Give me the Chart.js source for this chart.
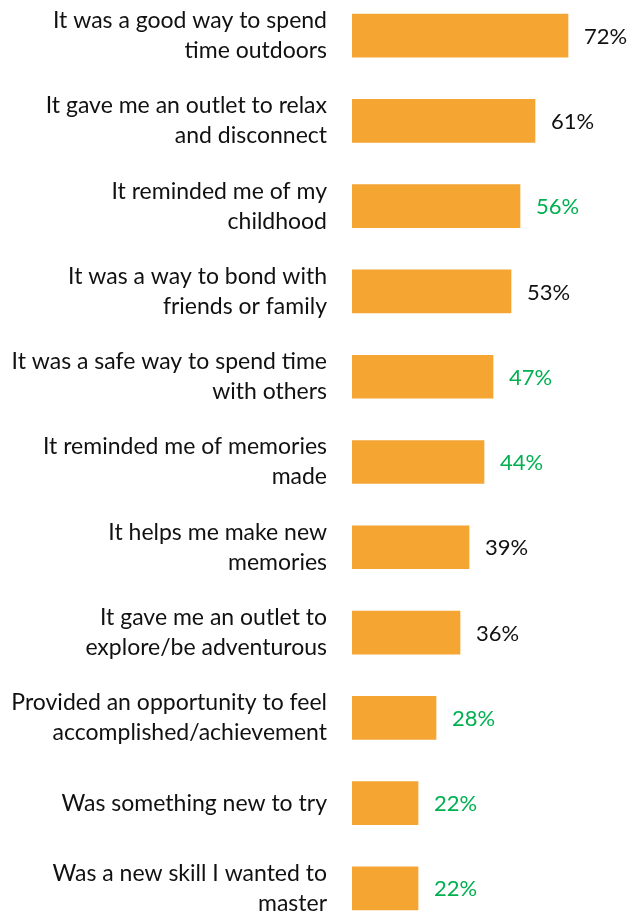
<!DOCTYPE html>
<html>
<head>
<meta charset="utf-8">
<script src="https://cdn.jsdelivr.net/npm/chart.js@4"></script>
<style>
  html, body { margin: 0; padding: 0; background: #fff; overflow: hidden; }
  #wrap { position: relative; width: 636px; height: 912px; overflow: hidden; }
  #reasonsChart { position: absolute; left: 0; top: -7px; }
</style>
</head>
<body>
<div id="wrap">
  <canvas id="reasonsChart" width="636" height="938"></canvas>
</div>
<script>
const reasons = [
  ['It was a good way to spend', 'time outdoors'],
  ['It gave me an outlet to relax', 'and disconnect'],
  ['It reminded me of my', 'childhood'],
  ['It was a way to bond with', 'friends or family'],
  ['It was a safe way to spend time', 'with others'],
  ['It reminded me of memories', 'made'],
  ['It helps me make new', 'memories'],
  ['It gave me an outlet to', 'explore/be adventurous'],
  ['Provided an opportunity to feel', 'accomplished/achievement'],
  'Was something new to try',
  ['Was a new skill I wanted to', 'master']
];
const percents = [72, 61, 56, 53, 47, 44, 39, 36, 28, 22, 22];
// highlighted values get green labels
const highlighted = [false, false, true, false, true, true, false, false, true, true, true];

const FONT = 'Lato, "Open Sans", sans-serif';

// writes "NN%" just past the end of each bar
const valueLabels = {
  id: 'valueLabels',
  afterDatasetsDraw(chart) {
    const ctx = chart.ctx;
    const meta = chart.getDatasetMeta(0);
    ctx.save();
    ctx.font = '22px ' + FONT;
    ctx.textBaseline = 'middle';
    ctx.textAlign = 'left';
    meta.data.forEach((bar, i) => {
      ctx.fillStyle = highlighted[i] ? '#00B050' : '#111111';
      ctx.fillText(percents[i] + '%', bar.x + 16, bar.y + 1);
    });
    ctx.restore();
  }
};

new Chart(document.getElementById('reasonsChart'), {
  type: 'bar',
  data: {
    labels: reasons,
    datasets: [{
      data: percents,
      backgroundColor: '#F4A532',
      borderWidth: 0,
      barThickness: 43
    }]
  },
  options: {
    indexAxis: 'y',
    responsive: false,
    animation: false,
    layout: { padding: { left: 0, right: 14, top: 0, bottom: 0 } },
    scales: {
      x: {
        display: false,
        min: 0,
        max: 90
      },
      y: {
        grid: { display: false, drawTicks: false },
        border: { display: false },
        ticks: {
          padding: 25,
          color: '#111111',
          font: { family: FONT, size: 23, lineHeight: '30px' }
        },
        afterFit(scale) {
          scale.width = 352;
          // let the category bands run to the canvas edges
          scale.paddingTop = 0;
          scale.paddingBottom = 0;
        }
      }
    },
    plugins: {
      legend: { display: false },
      tooltip: { enabled: false }
    }
  },
  plugins: [valueLabels]
});
</script>
</body>
</html>
